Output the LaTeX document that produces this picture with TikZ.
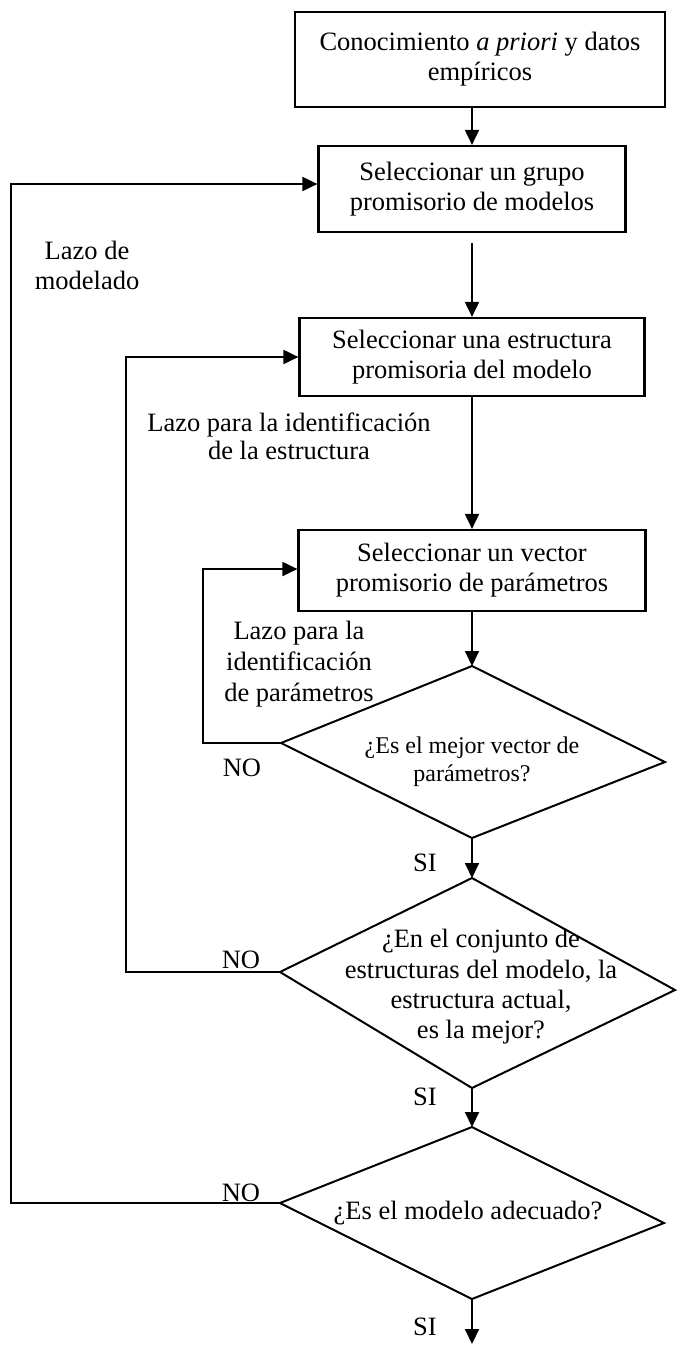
\documentclass[tikz,border=0pt]{standalone}
\usepackage{fontspec}
\setmainfont{Liberation Serif}
\usetikzlibrary{arrows.meta}
\begin{document}
\begin{tikzpicture}[x=0.5pt,y=-0.5pt,
  txt/.style={font=\fontsize{13.25}{15}\selectfont, align=center, inner sep=0pt},
  smalltxt/.style={font=\fontsize{12}{14}\selectfont, align=center, inner sep=0pt},
  procbox/.style={draw, line width=1.1pt, txt},
  arr/.style={line width=1pt, -{Triangle[length=7.5pt,width=7pt]}},
  decision/.style={line width=1pt}
]
\useasboundingbox (0,0) rectangle (677,1345);

% process boxes
\node[procbox, minimum width=185pt, minimum height=47.5pt] (b1) at (480,59.5)
  {Conocimiento \textit{a priori} y datos\\empíricos};
\node[procbox, minimum width=153.5pt, minimum height=43pt] (b2) at (472,189)
  {Seleccionar un grupo\\promisorio de modelos};
\node[procbox, minimum width=172.5pt, minimum height=39pt] (b3) at (472,357)
  {Seleccionar una estructura\\promisoria del modelo};
\node[procbox, minimum width=173.5pt, minimum height=40.5pt] (b4) at (472,570.5)
  {Seleccionar un vector\\promisorio de parámetros};

% decision 1
\coordinate (d1t) at (472,666);
\coordinate (d1l) at (281,743);
\coordinate (d1r) at (665,762);
\coordinate (d1b) at (472,838);
\draw[decision] (d1t) -- (d1r) -- (d1b) -- (d1l) -- cycle;
\node[smalltxt] (q1) at (472,762) {¿Es el mejor vector de\\parámetros?};

% decision 2
\coordinate (d2t) at (472,878);
\coordinate (d2l) at (280,972);
\coordinate (d2r) at (675,990);
\coordinate (d2b) at (472,1088);
\draw[decision] (d2t) -- (d2r) -- (d2b) -- (d2l) -- cycle;
\node[txt, font=\fontsize{13.25}{15.2}\selectfont] (q2) at (481,987)
  {¿En el conjunto de\\estructuras del modelo, la\\estructura actual,\\es la mejor?};

% decision 3
\coordinate (d3t) at (472,1127);
\coordinate (d3l) at (280,1203);
\coordinate (d3r) at (664,1223);
\coordinate (d3b) at (472,1299);
\draw[decision] (d3t) -- (d3r) -- (d3b) -- (d3l) -- cycle;
\node[txt] (q3) at (468,1213) {¿Es el modelo adecuado?};

% main flow
\draw[arr] (b1.south -| b2.north) -- (b2.north);
\draw[arr] ([yshift=-5pt]b2.south) -- (b3.north);
\draw[arr] (b3.south) -- (b4.north);
\draw[arr] (b4.south) -- (d1t);
\draw[arr] (d1b) -- (d2t);
\draw[arr] (d2b) -- (d3t);
\coordinate (out) at (472,1344);
\draw[arr] (d3b) -- (out);

% feedback loops
\coordinate (l1) at (11,1203);
\coordinate (l1t) at (11,184);
\draw[arr] (d3l) -- (l1) -- (l1t) -- (l1t -| b2.west);
\coordinate (l2) at (126,972);
\coordinate (l2t) at (126,357);
\draw[arr] (d2l) -- (l2) -- (l2t) -- (l2t -| b3.west);
\coordinate (l3) at (203,743);
\coordinate (l3t) at (203,569);
\draw[arr] (d1l) -- (l3) -- (l3t) -- (l3t -| b4.west);

% loop labels
\node[txt] (lab1) at (87,265) {Lazo de\\modelado};
\node[txt, font=\fontsize{13.25}{14}\selectfont] (lab2) at (289,436) {Lazo para la identificación\\de la estructura};
\node[txt, font=\fontsize{13.25}{15.5}\selectfont] (lab3) at (299,664) {Lazo para la\\identificación\\de parámetros};

% answer labels
\node[txt] (no1) at (242,768) {NO};
\node[txt] (no2) at (241,960) {NO};
\node[txt] (no3) at (241,1193) {NO};
\node[txt] (si1) at (425,863) {SI};
\node[txt] (si2) at (425,1097) {SI};
\node[txt] (si3) at (425,1327) {SI};
\end{tikzpicture}
\end{document}
